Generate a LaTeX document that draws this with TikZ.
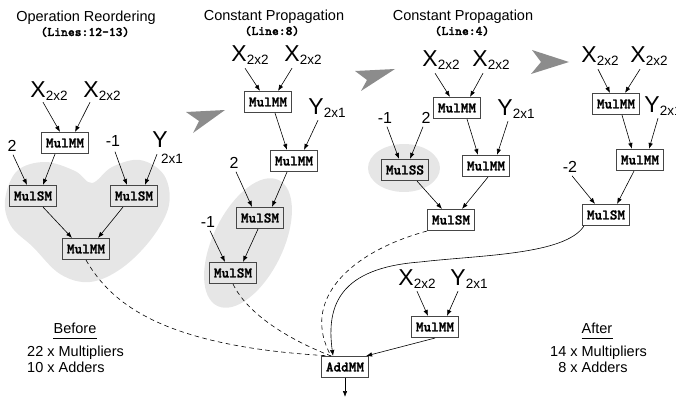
\documentclass[tikz,border=0pt]{standalone}
\usepackage{fontspec}
\setmainfont{Liberation Sans}
\newfontfamily\codefont{lmmonolt10-bold.otf}[FakeBold=1.6]
\usetikzlibrary{arrows.meta}

\definecolor{blobgray}{RGB}{230,230,230}
\definecolor{chevgray}{RGB}{140,140,140}
\definecolor{edgegray}{RGB}{70,70,70}

% matrix operand: big letter with its dimension as subscript
\newcommand{\operand}[2]{{\fontsize{23}{23}\selectfont #1}{\fontsize{13.5}{13.5}\selectfont\raisebox{-3pt}{#2}}}

\tikzset{
  op/.style={draw=edgegray, line width=1.1pt, fill=white,
    font=\codefont\fontsize{14.5}{14.5}\selectfont,
    inner xsep=4.5pt, inner ysep=0pt, minimum height=21pt},
  opg/.style={op, fill=blobgray},
  lbl/.style={inner sep=0pt, anchor=base},
  num/.style={inner sep=0pt, font=\fontsize{16}{16}\selectfont},
  ttl/.style={inner sep=0pt, anchor=base, font=\fontsize{14.5}{14.5}\selectfont},
  code/.style={inner sep=0pt, anchor=base, font=\codefont\fontsize{13}{13}\selectfont},
  arr/.style={-{Latex[length=6pt,width=4.5pt]}, line width=0.6pt},
  dsh/.style={dash pattern=on 4.5pt off 3.5pt, line width=0.6pt},
  blob/.style={fill=blobgray, draw=none},
  chev/.style={fill=chevgray, draw=none},
}

\begin{document}
\begin{tikzpicture}[x=1pt, y=-1pt]
\useasboundingbox (0,0) rectangle (676,401);

% ---------- shaded regions ----------
\fill[blob] plot[smooth cycle, tension=0.6] coordinates {
  (5,200) (17,171) (45,162) (75,171) (92,183) (112,167) (140,160)
  (164,175) (169,205) (152,238) (122,268) (90,282) (60,274) (33,247) (11,226)};
\fill[blob, rotate around={64:(248,243)}] (248,243) ellipse [x radius=70, y radius=35];
\fill[blob] (404,168) ellipse [x radius=36, y radius=24];

% ---------- step chevrons ----------
\fill[chev] (186,112) -- (225,110) -- (193,133) -- (199,121) -- cycle;
\fill[chev] (355,71) -- (395,69) -- (361,91) -- (367,80) -- cycle;
\fill[chev] (532,50) -- (569,62) -- (531,74) -- (541,62) -- cycle;

% ---------- titles ----------
\node[ttl]  (t1) at (86,22)  {Operation Reordering};
\node[code] (c1) at (85,36)  {(Lines:12-13)};
\node[ttl]  (t2) at (274,21) {Constant Propagation};
\node[code] (c2) at (272,35) {(Line:8)};
\node[ttl]  (t3) at (463,21) {Constant Propagation};
\node[code] (c3) at (462,35) {(Line:4)};

% ---------- stage 1 ----------
\node[lbl] (x1a) at (49,97)  {\operand{X}{2x2}};
\node[lbl] (x1b) at (102,97) {\operand{X}{2x2}};
\node[lbl] (y1)  at (160,147) {\fontsize{23}{23}\selectfont Y};
\node[lbl, font=\fontsize{13.5}{13.5}\selectfont] (y1s) at (172,163) {2x1};
\node[num] (n1a) at (12,146) {2};
\node[num] (n1b) at (113,141) {-1};
\node[op]  (m1a) at (65,143)  {MulMM};
\node[opg] (s1a) at (33,196)  {MulSM};
\node[opg] (s1b) at (134,196) {MulSM};
\node[opg] (m1c) at (86,249)  {MulMM};

\draw[arr] ([xshift=-6pt,yshift=-2pt]x1a.south) -- ([xshift=-5pt]m1a.north);
\draw[arr] ([xshift=-12pt,yshift=-2pt]x1b.south) -- ([xshift=10pt]m1a.north);
\draw[arr] ([xshift=1pt,yshift=-3pt]n1a.south) -- ([xshift=-6pt]s1a.north);
\draw[arr] ([xshift=-10pt]m1a.south) -- ([xshift=10pt]s1a.north);
\draw[arr] ([xshift=2pt,yshift=-5pt]n1b.south) -- ([xshift=-7pt]s1b.north);
\draw[arr] ([xshift=-3pt,yshift=-7pt]y1.south) -- ([xshift=11pt]s1b.north);
\draw[arr] ([xshift=10pt]s1a.south) -- ([xshift=-14pt]m1c.north);
\draw[arr] ([xshift=-11pt]s1b.south) -- ([xshift=12pt]m1c.north);

% ---------- stage 2 ----------
\node[lbl] (x2a) at (250,62) {\operand{X}{2x2}};
\node[lbl] (x2b) at (303,62) {\operand{X}{2x2}};
\node[lbl] (y2)  at (327,114) {\operand{Y}{2x1}};
\node[num] (n2a) at (234,163) {2};
\node[num] (n2b) at (208,222) {-1};
\node[op]  (m2a) at (268,102) {MulMM};
\node[op]  (m2b) at (294,161) {MulMM};
\node[opg] (s2a) at (260,218) {MulSM};
\node[opg] (s2b) at (233,273) {MulSM};

\draw[arr] ([xshift=-5pt,yshift=-3pt]x2a.south) -- ([xshift=-8pt]m2a.north);
\draw[arr] ([xshift=-11pt,yshift=-3pt]x2b.south) -- ([xshift=10pt]m2a.north);
\draw[arr] ([xshift=7pt]m2a.south) -- ([xshift=-7pt]m2b.north);
\draw[arr] ([xshift=-9pt,yshift=-3pt]y2.south) -- ([xshift=10pt]m2b.north);
\draw[arr] ([xshift=2pt,yshift=-3pt]n2a.south) -- ([xshift=-8pt]s2a.north);
\draw[arr] ([xshift=-7pt]m2b.south) -- ([xshift=12pt]s2a.north);
\draw[arr] ([xshift=2pt,yshift=-3pt]n2b.south) -- ([xshift=-8pt]s2b.north);
\draw[arr] ([xshift=-2pt]s2a.south) -- ([xshift=10pt]s2b.north);

% ---------- stage 3 ----------
\node[lbl] (x3a) at (441,67) {\operand{X}{2x2}};
\node[lbl] (x3b) at (491,67) {\operand{X}{2x2}};
\node[lbl] (y3)  at (516,115) {\operand{Y}{2x1}};
\node[num] (n3a) at (385,118) {-1};
\node[num] (n3b) at (426,118) {2};
\node[op]  (m3a) at (457,108) {MulMM};
\node[opg] (ss)  at (405,170) {MulSS};
\node[op]  (m3b) at (486,166) {MulMM};
\node[op]  (m3c) at (451,220) {MulSM};

\draw[arr] ([xshift=-6pt,yshift=-3pt]x3a.south) -- ([xshift=-7pt]m3a.north);
\draw[arr] ([xshift=-8pt,yshift=-3pt]x3b.south) -- ([xshift=13pt]m3a.north);
\draw[arr] ([xshift=2pt,yshift=-3pt]n3a.south) -- ([xshift=-6pt]ss.north);
\draw[arr] ([xshift=-3pt,yshift=-3pt]n3b.south) -- ([xshift=5pt]ss.north);
\draw[arr] ([xshift=10pt]m3a.south) -- ([xshift=-8pt]m3b.north);
\draw[arr] ([xshift=-8pt,yshift=-3pt]y3.south) -- ([xshift=11pt]m3b.north);
\draw[arr] ([xshift=12pt]ss.south) -- ([xshift=-9pt]m3c.north);
\draw[arr] ([xshift=2pt]m3b.south) -- ([xshift=11pt]m3c.north);

% ---------- stage 4 ----------
\node[lbl] (x4a) at (600,63) {\operand{X}{2x2}};
\node[lbl] (x4b) at (649,63) {\operand{X}{2x2}};
\node[lbl] (y4)  at (663,112) {\operand{Y}{2x1}};
\node[num] (n4)  at (570,167) {-2};
\node[op]  (m4a) at (616,104) {MulMM};
\node[op]  (m4b) at (640,160) {MulMM};
\node[op]  (m4c) at (606,215) {MulSM};

\draw[arr] ([xshift=-2pt,yshift=-3pt]x4a.south) -- ([xshift=-6pt]m4a.north);
\draw[arr] ([xshift=-9pt,yshift=-3pt]x4b.south) -- ([xshift=9pt]m4a.north);
\draw[arr] ([xshift=6pt]m4a.south) -- ([xshift=-8pt]m4b.north);
\draw[arr] ([xshift=-5pt,yshift=-3pt]y4.south) -- ([xshift=9pt]m4b.north);
\draw[arr] ([xshift=2pt,yshift=-3pt]n4.south) -- ([xshift=-11pt]m4c.north);
\draw[arr] ([xshift=-6pt]m4b.south) -- ([xshift=11pt]m4c.north);

% ---------- final addition ----------
\node[lbl] (x5) at (417,285) {\operand{X}{2x2}};
\node[lbl] (y5) at (469,285) {\operand{Y}{2x1}};
\node[op]  (m5)  at (435,327) {MulMM};
\node[op]  (add) at (345,367) {AddMM};
\coordinate (out) at (345,397);

\draw[arr] ([yshift=-3pt]x5.south) -- ([xshift=-7pt]m5.north);
\draw[arr] ([xshift=-11pt,yshift=-3pt]y5.south) -- ([xshift=12pt]m5.north);
\draw[arr] (m5.south) -- ([xshift=-3pt]add.north east);
\draw[arr] (add.south) -- (out);

\draw[arr] ([xshift=2pt]m4c.south west) .. controls (565,255) and (480,255) .. (420,262)
  .. controls (340,268) and (326,305) .. ([xshift=-12pt]add.north);
\draw[dsh] (m3c.south west) .. controls (350,252) and (300,300) .. ([xshift=-14pt]add.north);
\draw[dsh] (s2b.south) .. controls (248,315) and (290,340) .. ([xshift=-14pt]add.north);
\draw[dsh] (m1c.south) .. controls (112,305) and (165,347) .. ([xshift=-14pt]add.north);

% ---------- totals ----------
\node[ttl] (bf) at (75,333) {Before};
\draw[line width=0.7pt] ([yshift=-5pt]bf.base west) -- ([yshift=-5pt]bf.base east);
\node[ttl, anchor=base west] (bm) at (27,356) {22 x Multipliers};
\node[ttl, anchor=base west] (ba) at (27,372) {10 x Adders};
\node[ttl] (af) at (597,333) {After};
\draw[line width=0.7pt] ([yshift=-5pt]af.base west) -- ([yshift=-5pt]af.base east);
\node[ttl, anchor=base west] (am) at (550,356) {14 x Multipliers};
\node[ttl, anchor=base west] (aa) at (550,372) {\hphantom{1}8 x Adders};
\end{tikzpicture}
\end{document}
